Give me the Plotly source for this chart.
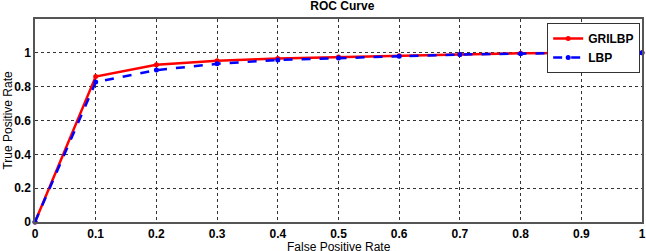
import plotly.graph_objects as go

fpr = [0, 0.1, 0.2, 0.3, 0.4, 0.5, 0.6, 0.7, 0.8, 0.9, 1.0]
tpr_grilbp = [0, 0.86, 0.93, 0.953, 0.966, 0.975, 0.983, 0.99, 0.997, 1.0, 1.0]
tpr_lbp = [0, 0.827, 0.898, 0.935, 0.958, 0.97, 0.98, 0.99, 0.995, 1.0, 1.0]
x_ticks = [0, 0.1, 0.2, 0.3, 0.4, 0.5, 0.6, 0.7, 0.8, 0.9, 1]
y_ticks = [0, 0.2, 0.4, 0.6, 0.8, 1]

FONT = "Liberation Sans, Arial, sans-serif"

fig = go.Figure()
fig.add_trace(go.Scatter(x=fpr, y=tpr_grilbp, name="GRILBP", mode="lines+markers",
                         line=dict(color="#ff0000", width=2.5),
                         marker=dict(color="#ff0000", size=5), cliponaxis=False))
fig.add_trace(go.Scatter(x=fpr, y=tpr_lbp, name="LBP", mode="lines+markers",
                         line=dict(color="#0000ff", width=2.5, dash="dash"),
                         marker=dict(color="#0000ff", size=5), cliponaxis=False))

axis_common = dict(showgrid=True, gridcolor="#333333", griddash="dot", gridwidth=1,
                   showline=True, linecolor="#555555", linewidth=1.5, mirror=True,
                   zeroline=False, ticks="", automargin=False,
                   tickfont=dict(family=FONT, size=12, color="black", weight="bold"))

fig.update_xaxes(range=[0, 1], tickvals=x_ticks, ticktext=[("%g" % v) for v in x_ticks],
                 ticklabelstandoff=0, **axis_common)
fig.update_yaxes(range=[0, 1.2], tickvals=y_ticks, ticktext=[("%g" % v) for v in y_ticks],
                 ticklabelstandoff=0, **axis_common)

fig.add_annotation(text="False Positive Rate", xref="paper", yref="paper", x=0.5, y=-0.08,
                   xanchor="center", yanchor="top", showarrow=False,
                   font=dict(family=FONT, size=12, color="black"))
fig.add_annotation(text="True Positive Rate", xref="paper", yref="paper", x=-0.046, y=0.5,
                   xanchor="center", yanchor="middle", textangle=-90, showarrow=False,
                   font=dict(family=FONT, size=12, color="black"))

fig.update_layout(
    width=646, height=251,
    margin=dict(l=35, r=4, t=19, b=29),
    paper_bgcolor="white", plot_bgcolor="white",
    title=dict(text="<b>ROC Curve</b>", x=0.53, xanchor="center", y=0.995, yanchor="top",
               font=dict(family=FONT, size=12, color="black")),
    legend=dict(x=0.997, xanchor="right", y=0.98, yanchor="top",
                bgcolor="white", bordercolor="#333333", borderwidth=1,
                font=dict(family=FONT, size=12, color="black", weight="bold"),
                tracegroupgap=0, itemwidth=30),
    showlegend=True,
)

fig.write_html("out.html", config={"displayModeBar": False},
               post_script="document.body.style.margin='0';document.body.style.overflow='hidden';")
